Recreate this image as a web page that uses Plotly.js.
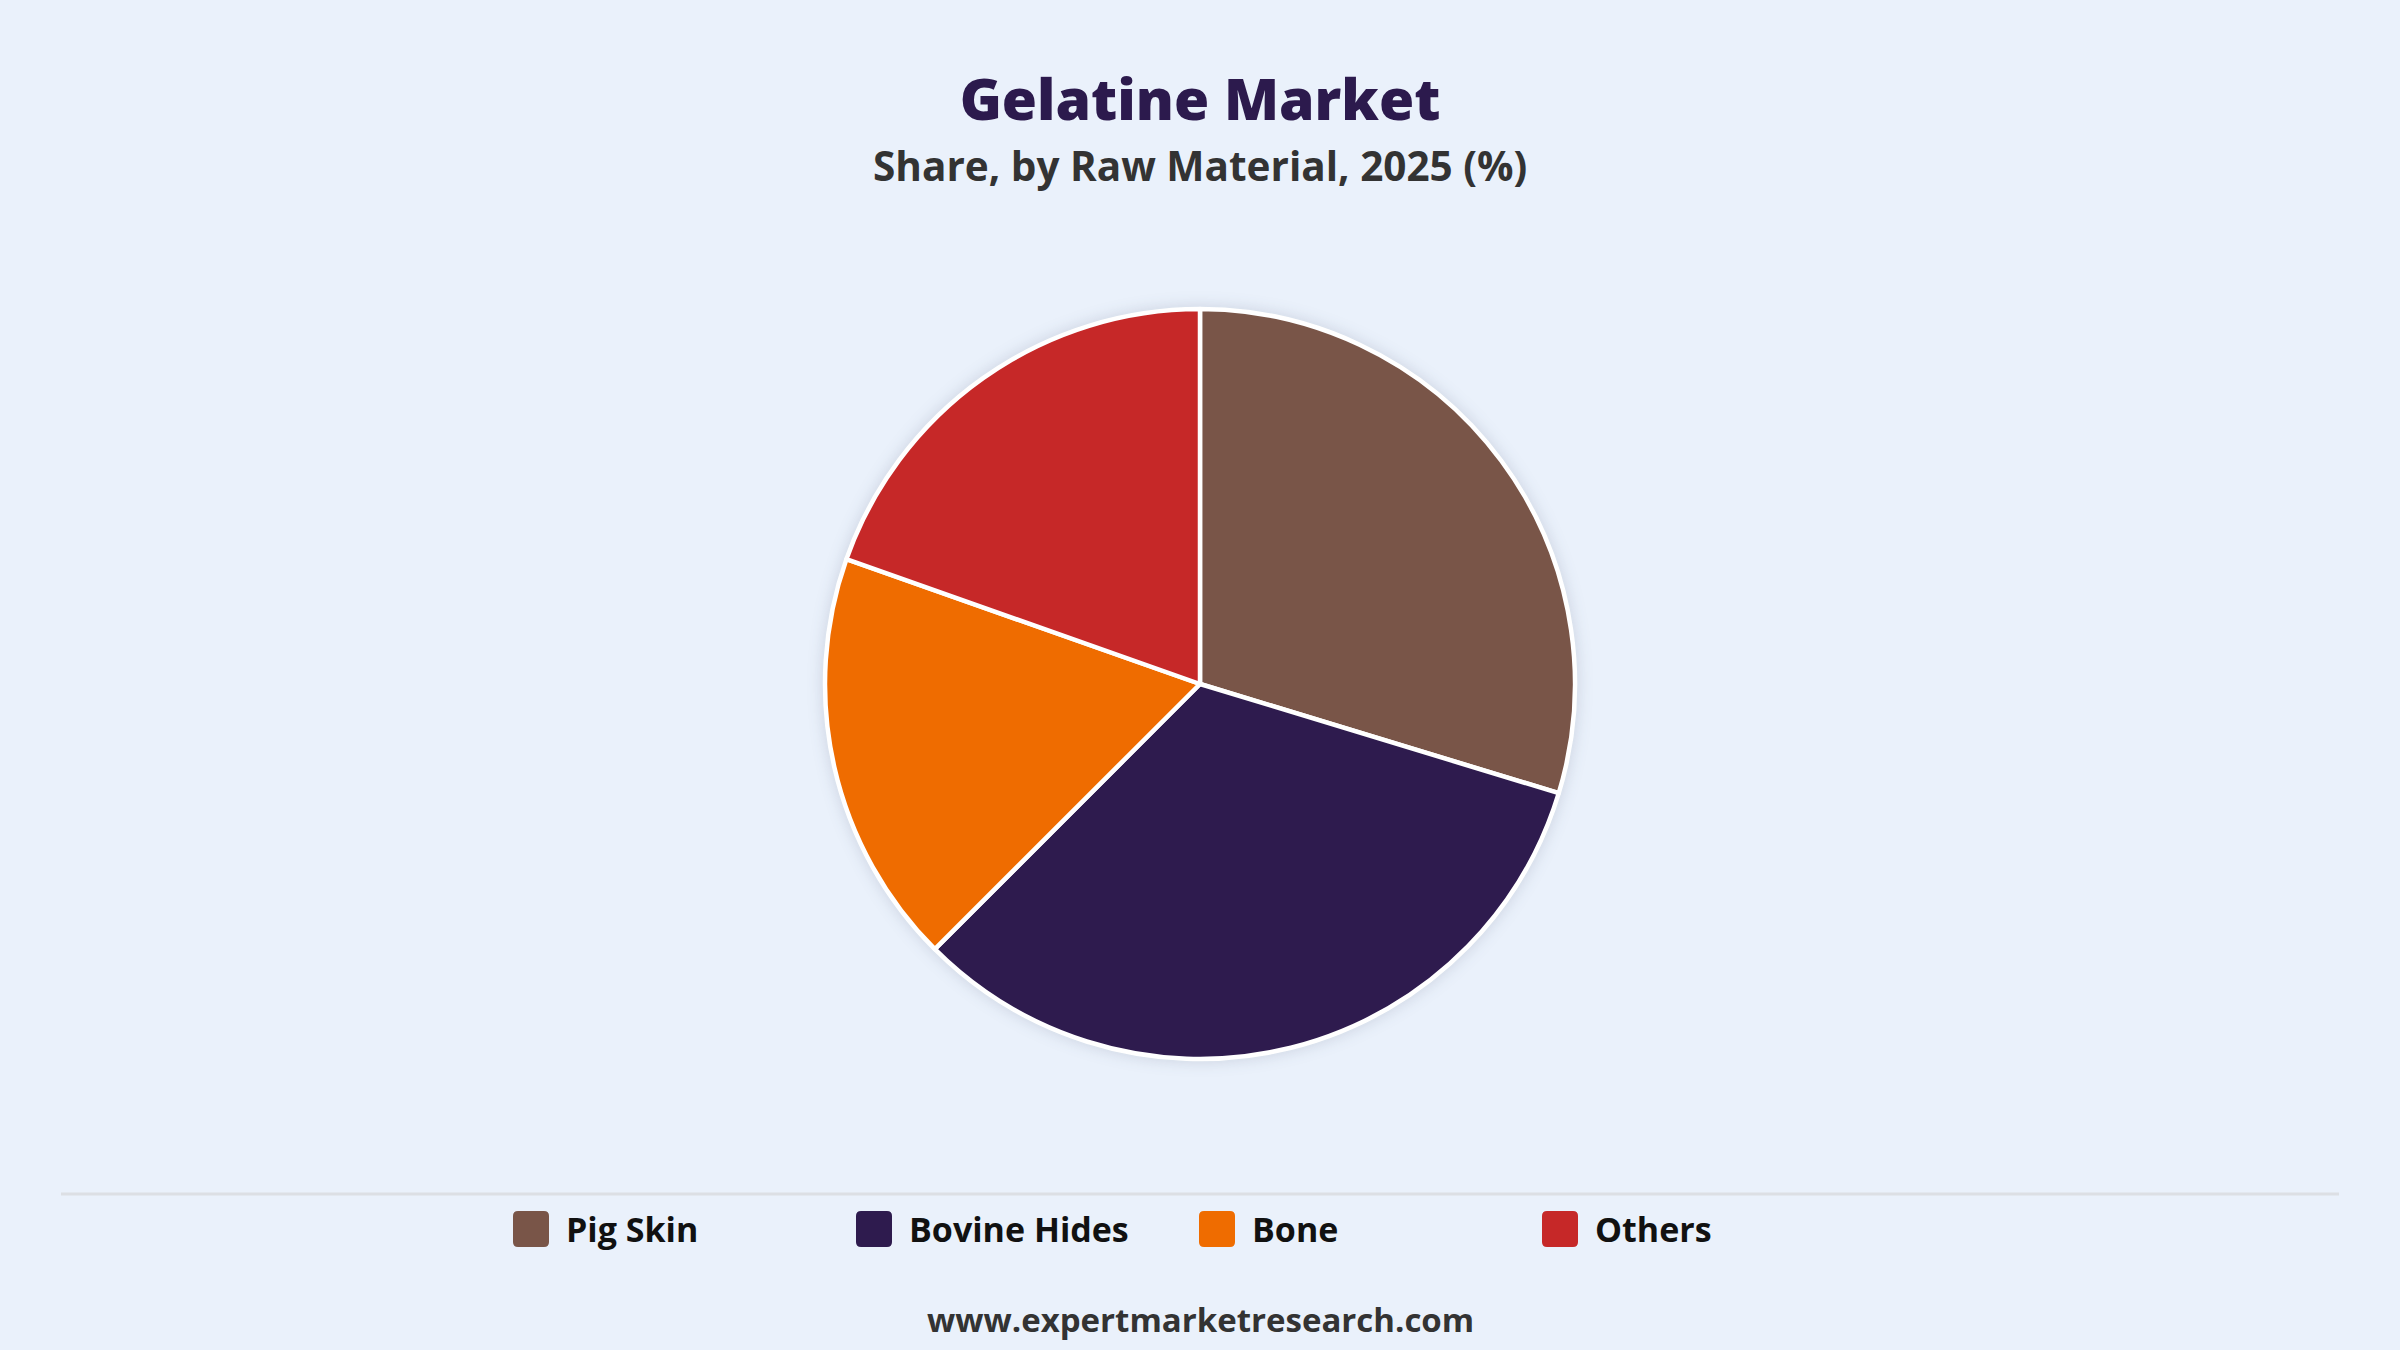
<!DOCTYPE html>
<html>
<head>
<meta charset="utf-8">
<script src="https://cdn.plot.ly/plotly-3.0.1.min.js"></script>
<style>
  html, body { margin: 0; padding: 0; background: #EAF1FB; }
  #chart { width: 2400px; height: 1350px; }
</style>
</head>
<body>
<div id="chart"></div>
<script>
// ---- Data ----
const categories = ["Pig Skin", "Bovine Hides", "Bone", "Others"];
const shares = [29.7, 32.8, 17.9, 19.6];
const colors = ["#795548", "#2E1B4E", "#EF6C00", "#C62828"];

const titleText = "Gelatine Market";
const subtitleText = "Share, by Raw Material, 2025 (%)";
const footerText = "www.expertmarketresearch.com";

// ---- Layout constants ----
const W = 2400, H = 1350;
const FONT = "'Open Sans', 'Noto Sans', sans-serif";
const px = v => v / W;
const py = v => 1 - v / H;

// pie geometry (pixels)
const cx = 1200, cy = 684, r = 375;

// legend geometry (pixels)
const legStartX = 513, legStep = 343, legY = 1229, sw = 36, rad = 5, textGap = 15;

function roundRectPath(x0, y0, x1, y1, rr) {
  const X = v => px(v), Y = v => py(v);
  return `M${X(x0 + rr)},${Y(y0)} L${X(x1 - rr)},${Y(y0)} Q${X(x1)},${Y(y0)} ${X(x1)},${Y(y0 + rr)} ` +
         `L${X(x1)},${Y(y1 - rr)} Q${X(x1)},${Y(y1)} ${X(x1 - rr)},${Y(y1)} ` +
         `L${X(x0 + rr)},${Y(y1)} Q${X(x0)},${Y(y1)} ${X(x0)},${Y(y1 - rr)} ` +
         `L${X(x0)},${Y(y0 + rr)} Q${X(x0)},${Y(y0)} ${X(x0 + rr)},${Y(y0)} Z`;
}

const shapes = [
  { type: "line", xref: "paper", yref: "paper",
    x0: px(61), x1: px(2339), y0: py(1194), y1: py(1194),
    line: { color: "#DCDFE4", width: 3 } }
];
const annotations = [
  { text: subtitleText, xref: "paper", yref: "paper",
    x: 0.5, y: py(165), xanchor: "center", yanchor: "middle", showarrow: false,
    font: { family: FONT, size: 40.5, color: "#333333", weight: 700 } },
  { text: footerText, xref: "paper", yref: "paper",
    x: 0.5, y: py(1319), xanchor: "center", yanchor: "middle", showarrow: false,
    font: { family: FONT, size: 33, color: "#333333", weight: 700 } }
];

categories.forEach((c, i) => {
  const x0 = legStartX + i * legStep;
  shapes.push({
    type: "path", xref: "paper", yref: "paper",
    path: roundRectPath(x0, legY - sw / 2, x0 + sw, legY + sw / 2, rad),
    fillcolor: colors[i], line: { width: 0 }
  });
  annotations.push({
    text: c, xref: "paper", yref: "paper",
    x: px(x0 + sw + textGap), y: py(legY), xanchor: "left", yanchor: "middle",
    showarrow: false, font: { family: FONT, size: 34, color: "#111111", weight: 700 }
  });
});

const trace = {
  type: "pie",
  labels: categories,
  values: shares,
  sort: false,
  direction: "clockwise",
  rotation: 0,
  textinfo: "none",
  hoverinfo: "label+percent",
  marker: { colors: colors, line: { color: "#FFFFFF", width: 4.5 } },
  domain: { x: [0, 1], y: [py(cy + r), py(cy - r)] },
  showlegend: false
};

const layout = {
  width: W, height: H,
  margin: { l: 0, r: 0, t: 0, b: 0 },
  paper_bgcolor: "#EAF1FB",
  plot_bgcolor: "#EAF1FB",
  showlegend: false,
  title: {
    text: titleText,
    x: 0.5, xanchor: "center", xref: "paper",
    y: py(100), yanchor: "middle", yref: "container",
    font: { family: FONT, size: 57, color: "#2C1A4D", weight: 800 }
  },
  shapes: shapes,
  annotations: annotations
};

Plotly.newPlot("chart", [trace], layout, { displayModeBar: false, staticPlot: true }).then(() => {
  document.querySelectorAll(".pielayer").forEach(el => {
    el.style.filter = "drop-shadow(0px 0px 8px rgba(40,50,80,0.16))";
  });
});
</script>
</body>
</html>
